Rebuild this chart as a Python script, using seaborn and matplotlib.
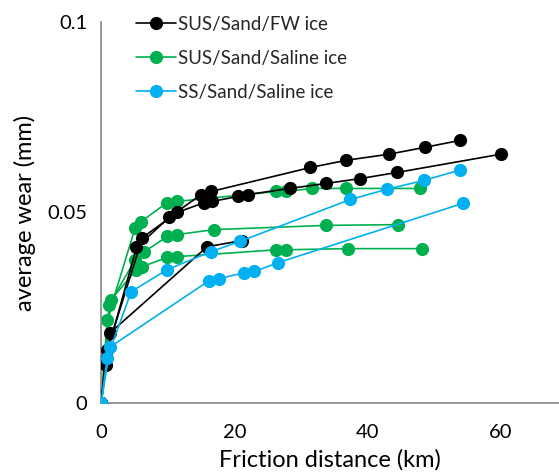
import matplotlib
matplotlib.use("Agg")
import matplotlib.pyplot as plt
from matplotlib.lines import Line2D
from matplotlib.ticker import FuncFormatter
import seaborn as sns
import pandas as pd

# ---- data (friction distance km, average wear mm) ----
fw1_x = [0, 0.6, 5.3, 10.2, 15.0, 16.5, 31.4, 36.8, 43.2, 48.6, 53.8]
fw1_y = [0, 0.0113, 0.0408, 0.0487, 0.0547, 0.0555, 0.0618, 0.0637, 0.0653, 0.0671, 0.0689]
fw2_x = [0, 0.9, 6.2, 11.4, 15.5, 16.7, 20.5, 22.0, 28.3, 33.7, 38.9, 44.4, 60.0]
fw2_y = [0, 0.0139, 0.0434, 0.0500, 0.0526, 0.0529, 0.0542, 0.0547, 0.0563, 0.0576, 0.0589, 0.0605, 0.0653]
fw3_x = [0, 0.75, 1.35, 15.9, 21.1]
fw3_y = [0, 0.0100, 0.0184, 0.0410, 0.0426]

sal1_x = [0, 0.9, 5.1, 6.0, 9.9, 11.4, 26.3, 27.8, 31.6, 36.8, 47.8]
sal1_y = [0, 0.0218, 0.0460, 0.0476, 0.0526, 0.0529, 0.0555, 0.0555, 0.0563, 0.0563, 0.0563]
sal2_x = [0, 1.2, 5.1, 6.5, 9.9, 11.4, 17.0, 33.7, 44.5]
sal2_y = [0, 0.0258, 0.0376, 0.0397, 0.0437, 0.0442, 0.0455, 0.0466, 0.0468]
sal3_x = [0, 1.5, 5.3, 6.2, 9.9, 11.4, 26.3, 27.8, 37.0, 48.1]
sal3_y = [0, 0.0271, 0.0350, 0.0358, 0.0382, 0.0384, 0.0402, 0.0402, 0.0405, 0.0405]

ss1_x = [0, 0.9, 4.5, 9.9, 16.5, 20.8, 37.4, 42.9, 48.4, 53.8]
ss1_y = [0, 0.0118, 0.0292, 0.0350, 0.0397, 0.0424, 0.0534, 0.0561, 0.0584, 0.0611]
ss2_x = [0, 1.35, 16.2, 17.7, 21.5, 23.0, 26.5, 54.3]
ss2_y = [0, 0.0147, 0.0321, 0.0326, 0.0342, 0.0345, 0.0368, 0.0524]

labels = ["SUS/Sand/FW ice", "SUS/Sand/Saline ice", "SS/Sand/Saline ice"]
colors = {"SUS/Sand/FW ice": "#000000",
          "SUS/Sand/Saline ice": "#00B050",
          "SS/Sand/Saline ice": "#00B0F0"}

runs = [
    ("SUS/Sand/FW ice", "fw1", fw1_x, fw1_y),
    ("SUS/Sand/FW ice", "fw2", fw2_x, fw2_y),
    ("SUS/Sand/FW ice", "fw3", fw3_x, fw3_y),
    ("SUS/Sand/Saline ice", "sal1", sal1_x, sal1_y),
    ("SUS/Sand/Saline ice", "sal2", sal2_x, sal2_y),
    ("SUS/Sand/Saline ice", "sal3", sal3_x, sal3_y),
    ("SS/Sand/Saline ice", "ss1", ss1_x, ss1_y),
    ("SS/Sand/Saline ice", "ss2", ss2_x, ss2_y),
]
rows = []
for g, r, xs, ys in runs:
    for x, y in zip(xs, ys):
        rows.append({"group": g, "run": r, "dist": x, "wear": y})
df = pd.DataFrame(rows)

sns.set_theme(style="white")
plt.rcParams["font.family"] = ["Lato", "DejaVu Sans"]

fig = plt.figure(figsize=(5.59, 4.74), dpi=100)
ax = fig.add_axes([0.181, 0.150, 0.819, 0.8036])

draw_order = ["SUS/Sand/Saline ice", "SUS/Sand/FW ice", "SS/Sand/Saline ice"]
for k, g in enumerate(draw_order):
    sub = df[df["group"] == g]
    sns.lineplot(data=sub, x="dist", y="wear", units="run", estimator=None,
                 sort=False, color=colors[g], marker="o", markersize=9.5,
                 markeredgewidth=0, linewidth=1.2, ax=ax, legend=False,
                 zorder=2 + k)

ax.set_xlim(0, 68.7)
ax.set_ylim(0, 0.1)
ax.set_xticks([0, 20, 40, 60])
ax.set_yticks([0, 0.05, 0.1])
ax.yaxis.set_major_formatter(FuncFormatter(lambda v, p: "0" if v == 0 else f"{v:g}"))
ax.tick_params(axis="both", direction="in", length=5, width=1, color="#888888",
               labelsize=14.5, labelcolor="#000000")
ax.tick_params(axis="x", pad=15)
ax.tick_params(axis="y", pad=10)
for s in ["top", "right"]:
    ax.spines[s].set_visible(False)
for s in ["left", "bottom"]:
    ax.spines[s].set_color("#888888")
    ax.spines[s].set_linewidth(1.2)
ax.set_xlabel("Friction distance (km)", fontsize=17, color="#000000", labelpad=6)
ax.set_ylabel("average wear (mm)", fontsize=17, color="#000000", labelpad=8)

handles = [Line2D([0], [0], color=colors[l], marker="o", markersize=9.5,
                  markeredgewidth=0, linewidth=1.2) for l in labels]
ax.legend(handles, labels, loc="upper left", bbox_to_anchor=(0.04, 1.06),
          frameon=False, fontsize=13.5, handlelength=2.1, handletextpad=0.1,
          labelspacing=0.9)

fig.savefig("out.png", dpi=100)
